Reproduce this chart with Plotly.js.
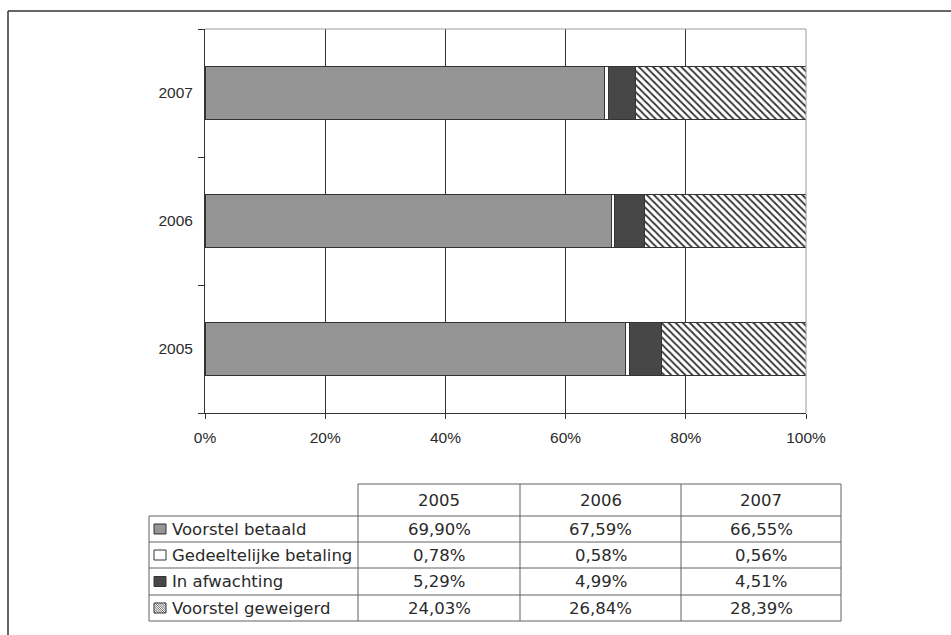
<!DOCTYPE html>
<html>
<head>
<meta charset="utf-8">
<script src="https://cdn.plot.ly/plotly-3.0.1.min.js"></script>
<style>html,body{margin:0;padding:0;background:#fff;}#chart{width:951px;height:635px;}</style>
</head>
<body>
<div id="chart"></div>
<script>
// ---- data ----
const years = ['2005', '2006', '2007'];
const seriesNames = ['Voorstel betaald', 'Gedeeltelijke betaling', 'In afwachting', 'Voorstel geweigerd'];
const voorstelBetaald = [69.90, 67.59, 66.55];
const gedeeltelijkeBetaling = [0.78, 0.58, 0.56];
const inAfwachting = [5.29, 4.99, 4.51];
const voorstelGeweigerd = [24.03, 26.84, 28.39];
const xTickValues = [0, 20, 40, 60, 80, 100];

// ---- geometry helpers (pixel -> paper) ----
const W = 951, H = 635;
const L = 205, R = 806, T = 29, B = 413;
const px = x => (x - L) / (R - L);
const py = y => (B - y) / (B - T);

const seriesValues = [voorstelBetaald, gedeeltelijkeBetaling, inAfwachting, voorstelGeweigerd];
const lineCol = '#333';
const fills = ['#959595', '#ffffff', '#474747', '#ffffff'];

const traces = seriesValues.map((vals, i) => {
  const marker = { color: fills[i], line: { color: lineCol, width: 1 } };
  if (i === 3) {
    marker.pattern = { shape: '\\', fgcolor: '#333', bgcolor: '#ffffff', size: 5, solidity: 0.35 };
  }
  return {
    type: 'bar', orientation: 'h', name: seriesNames[i],
    y: years, x: vals, marker: marker, hoverinfo: 'skip'
  };
});

const fmt = v => v.toFixed(2).replace('.', ',') + '%';

// ---- table ----
const colX = [358, 520, 681, 841];
const rowY = [484, 516, 542, 568, 595, 621];
const tableLeft = 149;
const shapes = [];
const line = (x0, y0, x1, y1, color, width) => shapes.push({
  type: 'line', xref: 'paper', yref: 'paper',
  x0: px(x0), y0: py(y0), x1: px(x1), y1: py(y1),
  line: { color: color, width: width }
});

// outer frame
line(8, 11, 8, 640, '#333', 1.5);
line(8, 11, 960, 11, '#333', 1.5);
// plot frame top/right (grey)
line(L, T, R, T, '#9a9a9a', 1);
line(R, T, R, B, '#9a9a9a', 1);

// table grid
const tc = '#606060';
line(colX[0], rowY[0], colX[3], rowY[0], tc, 1);
for (let r = 1; r < rowY.length; r++) line(tableLeft, rowY[r], colX[3], rowY[r], tc, 1);
line(tableLeft, rowY[1], tableLeft, rowY[5], tc, 1);
colX.forEach(x => line(x, rowY[0], x, rowY[5], tc, 1));

const annotations = [];
const tfont = { family: 'DejaVu Sans, Liberation Sans, Arial', size: 16.5, color: '#2a2a2a' };
years.forEach((yr, c) => {
  const cx = (colX[c] + colX[c + 1]) / 2;
  annotations.push({ xref: 'paper', yref: 'paper', x: px(cx), y: py((rowY[0] + rowY[1]) / 2),
    text: yr, showarrow: false, font: tfont, xanchor: 'center', yanchor: 'middle' });
  seriesValues.forEach((vals, r) => {
    annotations.push({ xref: 'paper', yref: 'paper', x: px(cx), y: py((rowY[r + 1] + rowY[r + 2]) / 2),
      text: fmt(vals[c]), showarrow: false, font: tfont, xanchor: 'center', yanchor: 'middle' });
  });
});
seriesNames.forEach((name, r) => {
  const cy = (rowY[r + 1] + rowY[r + 2]) / 2;
  annotations.push({ xref: 'paper', yref: 'paper', x: px(170), y: py(cy),
    text: name, showarrow: false, font: tfont, xanchor: 'left', yanchor: 'middle' });
  // legend key
  const k0 = 154, k1 = 166, ky0 = cy - 5, ky1 = cy + 5;
  shapes.push({ type: 'rect', xref: 'paper', yref: 'paper',
    x0: px(k0), x1: px(k1), y0: py(ky1), y1: py(ky0),
    fillcolor: fills[r], line: { color: '#333', width: 1 } });
  if (r === 3) {
    let path = '';
    for (let d = -10; d <= 12; d += 2.2) {
      let xa = k0 + d, ya = ky0, xb = k0 + d + 10, yb = ky1;
      let t0 = 0, t1 = 1;
      const dx = xb - xa;
      if (xa < k0) t0 = Math.max(t0, (k0 - xa) / dx);
      if (xb > k1) t1 = Math.min(t1, (k1 - xa) / dx);
      if (t1 <= t0) continue;
      const X0 = xa + dx * t0, Y0 = ya + (yb - ya) * t0, X1 = xa + dx * t1, Y1 = ya + (yb - ya) * t1;
      path += `M${px(X0)},${py(Y0)} L${px(X1)},${py(Y1)} `;
    }
    shapes.push({ type: 'path', xref: 'paper', yref: 'paper', path: path, line: { color: '#444', width: 0.8 } });
  }
});

const axFont = { family: 'Liberation Sans, Arial, sans-serif', size: 15.5, color: '#2a2a2a' };

const layout = {
  width: W, height: H, autosize: false,
  margin: { l: L, r: W - R, t: T, b: H - B, pad: 0 },
  paper_bgcolor: '#ffffff', plot_bgcolor: '#ffffff',
  barmode: 'stack', barnorm: 'percent', bargap: 0.585,
  showlegend: false,
  xaxis: {
    range: [0, 100], tickvals: xTickValues, ticktext: xTickValues.map(v => v + '%'),
    showgrid: true, gridcolor: '#333', gridwidth: 1,
    showline: true, linecolor: '#333', linewidth: 1,
    ticks: 'outside', ticklen: 5, tickcolor: '#333', tickfont: axFont,
    ticklabelstandoff: 5,
    zeroline: false, fixedrange: true
  },
  yaxis: {
    type: 'category', categoryorder: 'array', categoryarray: years,
    range: [-0.5, 2.5], tickson: 'boundaries',
    showgrid: false, showline: true, linecolor: '#333', linewidth: 1,
    ticks: 'outside', ticklen: 6, tickcolor: '#333', tickfont: axFont,
    ticklabelstandoff: 8,
    zeroline: false, fixedrange: true
  },
  shapes: shapes,
  annotations: annotations
};

Plotly.newPlot('chart', traces, layout, { staticPlot: true, displayModeBar: false });
</script>
</body>
</html>
